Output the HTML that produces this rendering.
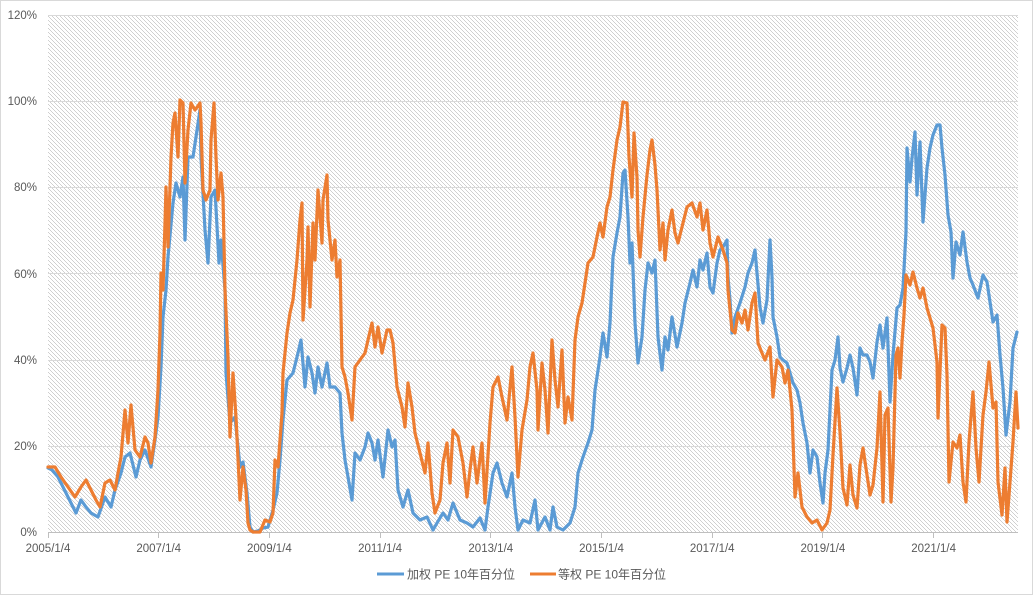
<!DOCTYPE html>
<html>
<head>
<meta charset="utf-8">
<style>
html,body{margin:0;padding:0;background:#fff;}
svg{display:block;}
text{font-family:"Liberation Sans","Noto Sans CJK SC",sans-serif;fill:#595959;}
</style>
</head>
<body>
<svg width="1033" height="595" viewBox="0 0 1033 595" xmlns="http://www.w3.org/2000/svg">
<defs>
<pattern id="hatch" x="0" y="0" width="4" height="4" patternUnits="userSpaceOnUse">
<rect x="0" y="0" width="4" height="4" fill="#ffffff"/>
<rect x="0" y="0" width="1" height="1" fill="#d0d0d0"/>
<rect x="1" y="1" width="1" height="1" fill="#d0d0d0"/>
<rect x="2" y="2" width="1" height="1" fill="#d0d0d0"/>
<rect x="3" y="3" width="1" height="1" fill="#d0d0d0"/>
</pattern>
</defs>
<rect x="0" y="0" width="1033" height="595" fill="#fff"/>
<rect x="0.5" y="0.5" width="1032" height="594" fill="none" stroke="#d9d9d9" stroke-width="1"/>
<rect x="48" y="15" width="970" height="517" fill="url(#hatch)" shape-rendering="crispEdges"/>
<g stroke="#d9d9d9" stroke-width="1" shape-rendering="crispEdges">
<line x1="48" y1="15.5" x2="1018" y2="15.5"/>
<line x1="48" y1="101.5" x2="1018" y2="101.5"/>
<line x1="48" y1="187.5" x2="1018" y2="187.5"/>
<line x1="48" y1="273.5" x2="1018" y2="273.5"/>
<line x1="48" y1="360.5" x2="1018" y2="360.5"/>
<line x1="48" y1="446.5" x2="1018" y2="446.5"/>
</g>
<g stroke="#bfbfbf" stroke-width="1" shape-rendering="crispEdges">
<line x1="48" y1="532.5" x2="1018" y2="532.5"/>
<line x1="48.5" y1="532" x2="48.5" y2="538"/>
<line x1="158.5" y1="532" x2="158.5" y2="538"/>
<line x1="269.5" y1="532" x2="269.5" y2="538"/>
<line x1="380.5" y1="532" x2="380.5" y2="538"/>
<line x1="490.5" y1="532" x2="490.5" y2="538"/>
<line x1="601.5" y1="532" x2="601.5" y2="538"/>
<line x1="712.5" y1="532" x2="712.5" y2="538"/>
<line x1="822.5" y1="532" x2="822.5" y2="538"/>
<line x1="933.5" y1="532" x2="933.5" y2="538"/>
</g>
<g font-size="11.5" text-anchor="end">
<text x="37" y="19">120%</text>
<text x="37" y="105">100%</text>
<text x="37" y="191">80%</text>
<text x="37" y="278">60%</text>
<text x="37" y="364">40%</text>
<text x="37" y="450">20%</text>
<text x="37" y="536">0%</text>
</g>
<g font-size="11.5" text-anchor="middle">
<text x="48" y="552">2005/1/4</text>
<text x="158.7" y="552">2007/1/4</text>
<text x="269.4" y="552">2009/1/4</text>
<text x="380.1" y="552">2011/1/4</text>
<text x="490.8" y="552">2013/1/4</text>
<text x="601.5" y="552">2015/1/4</text>
<text x="712.2" y="552">2017/1/4</text>
<text x="822.9" y="552">2019/1/4</text>
<text x="933.6" y="552">2021/1/4</text>
</g>
<polyline fill="none" stroke="#5b9bd5" stroke-width="3.2" stroke-linejoin="round" stroke-linecap="round" points="48,468 52,470 58,477 63,487 68,497 72,505 76,513 81,500 86,507 91,513 98,517 105,497 111,507 115,490 121,473 125,457 130,453 136,477 140,460 145,450 151,467 155,440 158,417 161,367 163,317 166,290 168,257 173,203 176,183 180,197 183,177 185,240 188,157 193,157 196,137 200,110 201,157 205,230 208,263 211,197 215,190 219,263 221,240 225,290 226,373 230,423 235,417 240,467 243,462 247,493 250,527 253,532 258,531 263,528 268,527 273,510 277,493 280,460 283,420 287,380 293,373 298,353 301,340 305,387 308,357 312,373 315,393 318,367 322,387 327,363 330,387 335,387 340,393 342,433 345,460 348,477 352,500 355,453 360,460 365,447 368,433 372,443 375,460 378,440 383,477 388,430 392,447 395,440 398,490 403,507 408,490 413,513 420,520 427,517 433,530 437,523 443,513 448,520 453,503 460,520 467,523 473,527 480,518 485,530 488,507 493,473 497,463 502,483 507,497 512,473 515,507 518,530 523,520 530,523 535,500 538,530 545,517 550,530 553,507 557,527 563,530 570,523 575,507 578,473 583,457 588,443 592,430 595,390 597,377 600,357 603,333 607,357 610,323 613,257 617,233 620,217 623,173 625,170 628,217 630,263 632,243 635,323 638,363 642,337 645,290 648,263 652,273 655,260 658,337 662,370 665,337 668,350 672,317 677,347 682,323 685,303 690,283 693,270 697,287 700,260 703,270 707,253 710,287 713,293 717,263 720,250 723,247 727,240 728,277 730,300 732,333 735,317 740,303 745,287 748,273 752,263 755,250 757,273 760,307 763,323 767,300 770,240 772,277 773,317 777,337 780,357 783,360 787,363 790,373 793,383 797,390 800,403 803,423 807,443 810,473 813,450 817,457 820,483 823,503 825,473 828,450 832,370 835,360 838,337 840,368 843,382 847,368 850,355 853,368 857,395 860,348 863,355 867,355 870,362 873,378 877,342 880,325 883,348 887,318 890,402 893,355 897,308 900,305 903,288 906,232 907,148 910,182 912,158 915,132 917,195 920,142 923,222 927,168 930,148 933,135 937,125 940,125 942,148 945,175 948,215 951,232 953,278 956,242 960,255 963,232 967,262 970,278 973,285 978,298 983,275 987,282 990,302 993,322 997,315 1000,355 1003,388 1006,435 1010,402 1013,348 1017,332"/>
<polyline fill="none" stroke="#ed7d31" stroke-width="3.2" stroke-linejoin="round" stroke-linecap="round" points="48,467 55,467 61,477 68,487 75,497 81,487 86,480 91,490 96,500 100,507 105,483 110,480 115,490 118,473 121,457 125,410 128,443 131,405 135,450 140,457 145,437 148,443 151,463 155,437 158,390 160,333 161,273 163,290 165,223 166,187 168,247 171,157 173,123 175,113 178,157 180,100 183,103 185,183 188,130 191,103 195,110 200,103 201,123 203,190 206,200 210,190 211,140 214,103 216,157 218,200 221,173 223,197 225,290 228,357 230,437 233,373 236,417 240,500 243,467 246,490 248,523 250,530 253,532 260,532 265,520 270,522 273,513 275,460 278,467 282,413 283,373 287,333 290,313 293,300 297,260 300,220 302,203 303,320 307,260 308,227 310,307 313,223 315,260 318,190 322,243 323,200 327,175 328,220 332,260 335,240 337,277 340,260 342,367 345,377 348,393 352,420 355,367 360,360 365,353 368,340 372,323 375,347 378,327 382,353 387,330 390,330 393,343 397,387 402,407 405,427 408,383 412,407 415,433 420,453 425,473 428,443 432,493 435,513 440,500 443,463 447,443 450,483 453,430 458,437 463,463 467,497 470,470 473,447 477,483 482,443 485,503 490,423 493,387 498,377 502,397 507,420 512,367 515,417 518,477 522,430 527,400 530,367 533,353 537,390 538,430 542,363 545,390 548,433 552,340 555,380 558,407 562,350 565,423 568,397 572,420 575,340 578,317 582,303 585,283 588,263 593,257 597,237 600,223 603,237 607,207 610,197 613,170 617,140 620,127 623,102 627,103 629,157 632,197 634,133 637,177 638,230 640,257 643,217 647,175 650,150 652,140 655,165 657,190 660,250 663,223 665,260 668,230 672,210 675,233 678,243 683,223 687,207 692,203 697,217 700,203 703,230 707,210 710,243 713,257 718,237 723,250 727,263 728,290 732,330 735,333 738,313 742,323 745,310 748,330 752,303 755,293 758,343 762,353 765,360 770,347 773,397 777,360 782,367 785,383 788,370 792,410 795,497 798,473 802,507 807,517 812,523 817,520 822,530 827,523 830,510 833,455 837,388 840,432 843,488 847,505 850,465 853,495 857,508 860,465 863,448 867,475 870,495 873,485 877,448 880,392 883,502 885,415 888,408 891,502 893,468 896,355 898,348 900,378 902,342 904,315 906,275 910,285 913,272 917,288 920,298 923,288 927,308 930,318 933,328 937,362 938,418 942,325 945,328 947,375 949,482 953,442 957,448 960,435 963,482 966,502 969,442 973,392 976,448 979,482 983,415 986,392 989,362 993,408 996,402 998,482 1002,515 1005,468 1007,522 1010,482 1013,442 1016,392 1018,428"/>
<line x1="377" y1="574" x2="404" y2="574" stroke="#5b9bd5" stroke-width="3"/>
<text x="407" y="578.5" font-size="12">加权 PE 10年百分位</text>
<line x1="530" y1="574" x2="556" y2="574" stroke="#ed7d31" stroke-width="3"/>
<text x="558" y="578.5" font-size="12">等权 PE 10年百分位</text>
</svg>
</body>
</html>
